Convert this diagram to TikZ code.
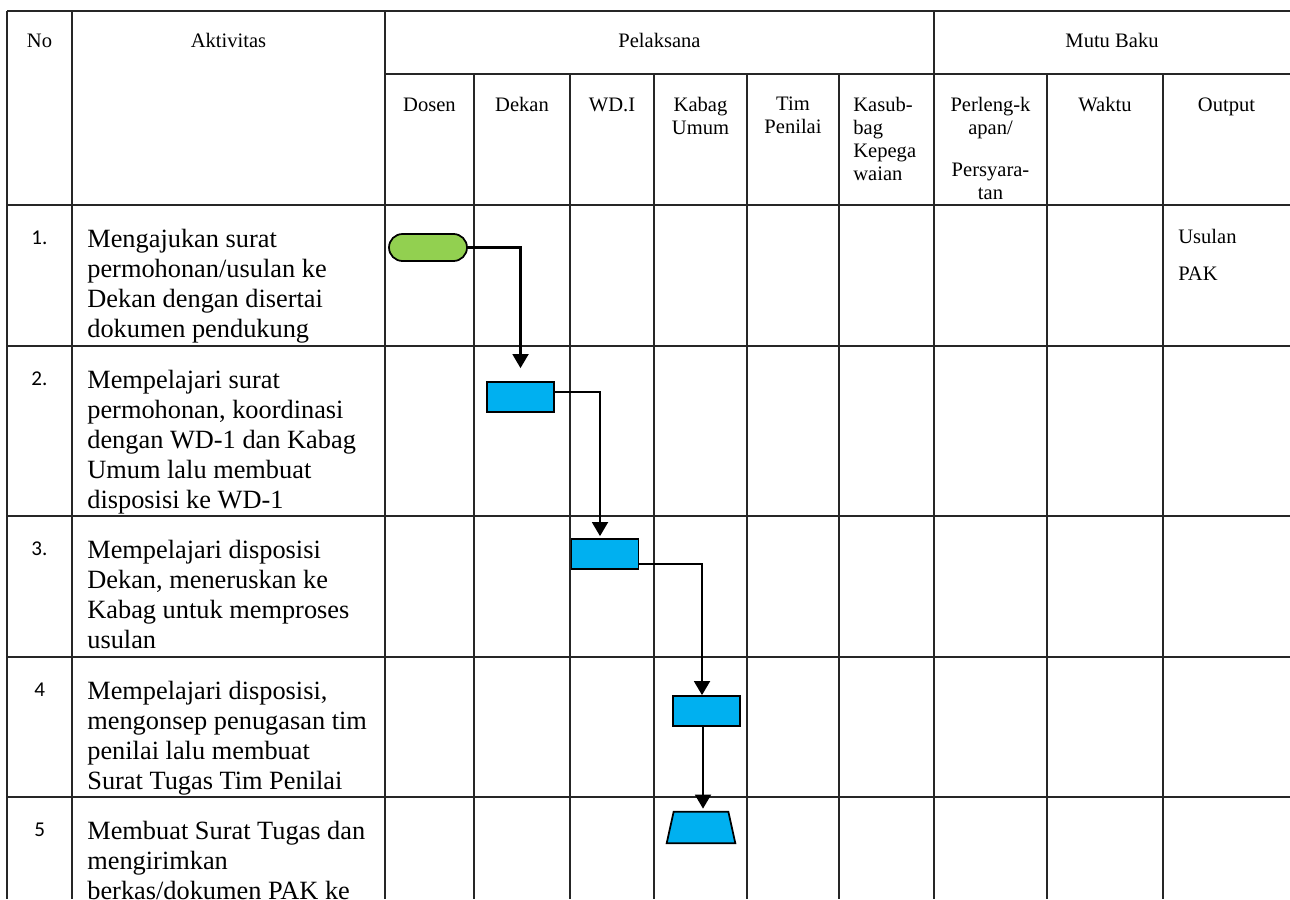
\documentclass[tikz,border=0pt]{standalone}
\usepackage{fontspec}
\setmainfont{Liberation Serif}
\newfontfamily\numfam{Carlito}
\usetikzlibrary{arrows.meta,calc}
\definecolor{cStart}{HTML}{92D050}
\definecolor{cProc}{HTML}{00B0F0}
\definecolor{cRule}{HTML}{262626}
\newcommand\hdsize{\fontsize{11.7}{13.1}\selectfont}
\newcommand\actsize{\fontsize{15}{17.07}\selectfont}
\newcommand\numsize{\numfam\fontsize{12}{13}\selectfont}
\tikzset{
  rule/.style={line width=0.7pt,draw=cRule},
  flow/.style={-{Triangle[length=8pt,width=9pt]},line width=1.4pt,draw=black},
  head/.style={font=\hdsize,inner sep=0pt,align=center},
  acttext/.style={font=\actsize,inner sep=0pt,align=left,anchor=north west},
  rownum/.style={font=\numsize,inner sep=0pt,anchor=base west},
  startbox/.style={rectangle,rounded corners=0.27cm,draw=black,fill=cStart,line width=1pt,
                   minimum width=1.56cm,minimum height=0.54cm,inner sep=0pt},
  procbox/.style={rectangle,draw=black,fill=cProc,line width=1pt,
                  minimum width=1.34cm,minimum height=0.6cm,inner sep=0pt},
  manualbox/.style={rectangle,minimum width=1.36cm,minimum height=0.62cm,inner sep=0pt},
  manualline/.style={draw=black,fill=cProc,line width=1pt,line join=miter}
}
\begin{document}
\begin{tikzpicture}[x=0.02cm,y=-0.02cm]
  \path[use as bounding box,clip] (0,0) rectangle (1290,899);
  \draw[rule] (7,11) -- (1290,11);
  \draw[rule] (385,74) -- (1290,74);
  \foreach \y in {205,346,516,657,797} \draw[rule] (7,\y) -- (1290,\y);
  \foreach \x in {7,72,385,934} \draw[rule] (\x,11) -- (\x,899);
  \foreach \x in {474,570,654,747,839,1047,1163} \draw[rule] (\x,74) -- (\x,899);

  \node[head,anchor=base] (hNo) at (39.5,47) {No};
  \node[head,anchor=base] (hAkt) at (228.5,47) {Aktivitas};
  \node[head,anchor=base] (hPel) at (659.5,47) {Pelaksana};
  \node[head,anchor=base] (hMutu) at (1112,47) {Mutu Baku};
  \node[head,anchor=base] (hDosen) at (429.5,111) {Dosen};
  \node[head,anchor=base] (hDekan) at (522,111) {Dekan};
  \node[head,anchor=base] (hWd) at (612,111) {WD.I};
  \node[head,anchor=north] (hKabag) at (700.5,97) {Kabag\\Umum};
  \node[head,anchor=north] (hTim) at (793,97) {Tim\\Penilai};
  \node[head,anchor=north west,align=left] (hKasub) at (853,97) {Kasub-\\bag\\Kepega\\waian};
  \node[head,anchor=north] (hPerl) at (990.5,97) {Perleng-k\\apan/\\[10.8pt]Persyara-\\tan};
  \node[head,anchor=base] (hWaktu) at (1105,111) {Waktu};
  \node[head,anchor=base] (hOut) at (1226.5,111) {Output};

  \node[rownum] (n1) at (31,244) {1.};
  \node[acttext] (a1) at (87,229)
    {Mengajukan surat\\permohonan/usulan ke\\Dekan dengan disertai\\dokumen pendukung};
  \node[rownum] (n2) at (31,385) {2.};
  \node[acttext] (a2) at (87,370)
    {Mempelajari surat\\permohonan, koordinasi\\dengan WD-1 dan Kabag\\Umum lalu membuat\\disposisi ke WD-1};
  \node[rownum] (n3) at (31,555) {3.};
  \node[acttext] (a3) at (87,540)
    {Mempelajari disposisi\\Dekan, meneruskan ke\\Kabag untuk memproses\\usulan};
  \node[rownum] (n4) at (34,696) {4};
  \node[acttext] (a4) at (87,681)
    {Mempelajari disposisi,\\mengonsep penugasan tim\\penilai lalu membuat\\Surat Tugas Tim Penilai};
  \node[rownum] (n5) at (34,836) {5};
  \node[acttext] (a5) at (87,821)
    {Membuat Surat Tugas dan\\mengirimkan\\berkas/dokumen PAK ke};
  \node[head,anchor=north west,align=left] (out1) at (1178,229) {Usulan\\[8pt]PAK};

  \node[startbox] (start) at (428,247.5) {};
  \node[procbox] (dekan) at (520.5,397) {};
  \node[procbox] (wdi) at (605,554) {};
  \node[procbox] (kabag) at (706.5,711) {};
  \node[manualbox] (surat) at (701,827.5) {};
  \draw[manualline] (surat.south west) -- (surat.south east)
    -- ([xshift=-0.14cm]surat.north east) -- ([xshift=0.14cm]surat.north west) -- cycle;

  \draw[flow,shorten >=0.26cm] (start.east) -| (dekan.north);
  \draw[flow,shorten >=0.04cm] ([yshift=0.1cm]dekan.east) -| ([xshift=-0.1cm]wdi.north);
  \draw[flow] ([yshift=-0.2cm]wdi.east) -| ([xshift=-0.09cm]kabag.north);
  \draw[flow,shorten >=0.06cm] ([xshift=-0.07cm]kabag.south) -- ([xshift=-0.07cm]kabag.south |- surat.north);
\end{tikzpicture}
\end{document}
